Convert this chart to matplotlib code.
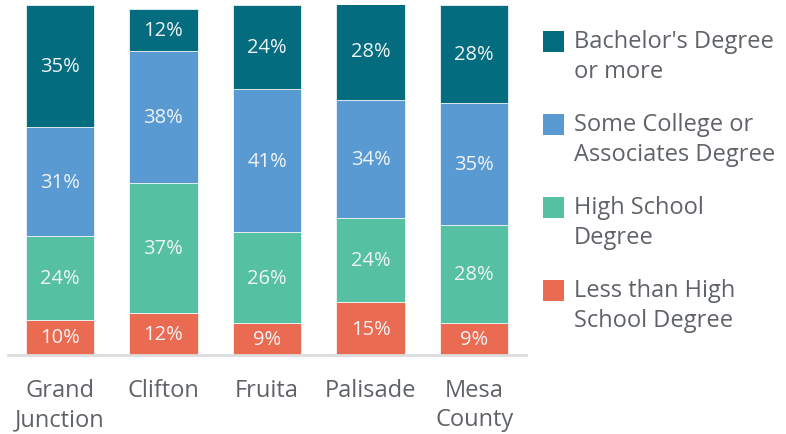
#!/usr/bin/env python3

# Import modules.
import numpy as np
import matplotlib
matplotlib.use("Agg")
import matplotlib.pyplot as plt
from matplotlib.patches import Rectangle

plt.rcParams['font.family'] = ['Open Sans', 'DejaVu Sans']

# Data.
places = ["Grand\nJunction", "Clifton", "Fruita", "Palisade", "Mesa\nCounty"]
less_than_hs = [10, 12, 9, 15, 9]
high_school = [24, 37, 26, 24, 28]
some_college = [31, 38, 41, 34, 35]
bachelors = [35, 12, 24, 28, 28]

series = [less_than_hs, high_school, some_college, bachelors]
series_labels = ["Less than High\nSchool Degree", "High School\nDegree",
                 "Some College or\nAssociates Degree", "Bachelor's Degree\nor more"]
colors = ["#ea6b52", "#55c0a2", "#5a9ad3", "#036c7f"]

text_gray = "#5f6368"

fig = plt.figure(figsize=(7.86, 4.35), dpi=100)
ax = fig.add_axes([0.0102, 0.182, 0.659, 0.804])

x = np.arange(len(places))
bottom = np.zeros(len(places))
for vals, col in zip(series, colors):
    vals = np.array(vals, dtype=float)
    ax.bar(x, vals, width=0.66, bottom=bottom, color=col,
           edgecolor="white", linewidth=0.5)
    for xi, b, v in zip(x, bottom, vals):
        ax.text(xi, b + v / 2, f"{int(v)}%", ha="center", va="center",
                color="#eef3f3", fontsize=14.5)
    bottom += vals

ax.set_xlim(-0.5, 4.5)
ax.set_ylim(0, 100)
ax.set_xticks(x)
ax.set_xticklabels(places, fontsize=17, color=text_gray, linespacing=1.3)
ax.tick_params(axis="x", length=0, pad=16.5)
ax.tick_params(axis="y", left=False, labelleft=False)
for side in ["top", "right", "left"]:
    ax.spines[side].set_visible(False)
ax.spines["bottom"].set_color("#dcdcdc")
ax.spines["bottom"].set_linewidth(2)

# Legend, drawn by hand so squares sit beside the first line.
W, H = 786, 435
for i, (lab, col) in enumerate(zip(series_labels[::-1], colors[::-1])):
    yc = 42 + i * 83
    fig.add_artist(Rectangle((543 / W, 1 - (yc + 10.5) / H), 21 / W, 21 / H,
                             transform=fig.transFigure, facecolor=col,
                             edgecolor="none"))
    fig.text(574 / W, 1 - (yc - 12) / H, lab, ha="left", va="top",
             fontsize=17, color=text_gray, linespacing=1.32)

fig.savefig("out.png", dpi=100)
